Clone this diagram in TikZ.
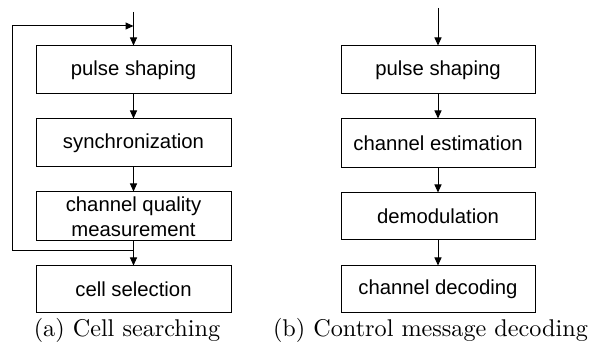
\documentclass[tikz,border=0pt]{standalone}
\usepackage{fontspec}
\newfontfamily\boxfont{Liberation Sans}
\newfontfamily\capfont{lmroman10-regular.otf}
\usetikzlibrary{arrows.meta}
\begin{document}
\begin{tikzpicture}[x=1pt,y=1pt,
  blk/.style={draw=black, line width=1pt, minimum height=48pt, inner sep=0pt, align=center,
    font=\boxfont\fontsize{20.3}{24.5}\selectfont},
  lblk/.style={blk, minimum width=195pt},
  rblk/.style={blk, minimum width=194pt},
  conn/.style={line width=1pt, -{Triangle[length=8pt,width=7pt]}},
  captext/.style={anchor=base, inner sep=0pt, font=\capfont\fontsize{24.2}{29}\selectfont}]
\useasboundingbox (0,0) rectangle (590,-350);
% left panel
\node[lblk] (l1) at (133.5,-70) {pulse shaping};
\node[lblk] (l2) at (133.5,-143) {synchronization};
\node[lblk, minimum height=49pt] (l3) at (133.5,-216.5) {channel quality\\measurement};
\node[lblk, minimum height=47pt] (l4) at (133.5,-289.5) {cell selection};
\coordinate (lin) at (133.5,-12);
\coordinate (fbin) at (133.5,-26);
\coordinate (fb) at (133.5,-251);
\coordinate (fbl) at (12,-251);
\draw[conn] (lin) -- (l1);
\draw[conn] (l1) -- (l2);
\draw[conn] (l2) -- (l3);
\draw[conn] (l3) -- (l4);
\draw[conn] (fb) -- (fbl) |- (fbin);
% right panel
\node[rblk] (r1) at (438,-70) {pulse shaping};
\node[rblk, minimum height=49pt] (r2) at (438,-143.5) {channel estimation};
\node[rblk, minimum height=47pt] (r3) at (438,-216.5) {demodulation};
\node[rblk, minimum height=47pt] (r4) at (438,-289.5) {channel decoding};
\coordinate (rin) at (438,-8);
\draw[conn] (rin) -- (r1);
\draw[conn] (r1) -- (r2);
\draw[conn] (r2) -- (r3);
\draw[conn] (r3) -- (r4);
% captions
\node[captext] (capa) at (127,-337) {(a) Cell searching};
\node[captext] (capb) at (430.5,-337) {(b) Control message decoding};
\end{tikzpicture}
\end{document}
